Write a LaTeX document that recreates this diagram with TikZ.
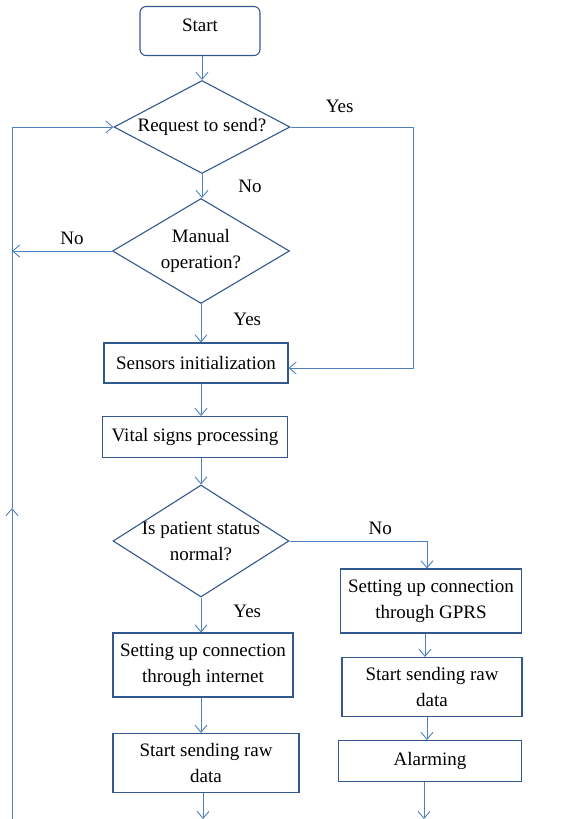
\documentclass[tikz,border=0pt]{standalone}
\usepackage{fontspec}
\setmainfont{Liberation Serif}
\usetikzlibrary{positioning, shapes.geometric, arrows.meta}
\definecolor{flowline}{RGB}{79,129,189}
\definecolor{flowedge}{RGB}{50,88,142}
\tikzstyle{startstop} = [rectangle, draw=flowedge, rounded corners=6pt, line width=1.1pt,
    minimum width=120pt, minimum height=49pt]
\tikzstyle{process} = [rectangle, draw=flowedge, line width=1.1pt, align=center, inner sep=0pt]
\tikzstyle{decision} = [diamond, draw=flowedge, line width=1.1pt, align=center, inner sep=-30pt]
\tikzstyle{line} = [draw=flowline, line width=0.9pt, ->]
\tikzstyle{answer} = [inner sep=0pt]

\begin{document}
\begin{tikzpicture}[x=1pt, y=1pt, node distance=96pt, >={Straight Barb[length=7pt,width=12pt]},
    font=\fontsize{19}{26}\selectfont]
                \useasboundingbox (0,0) rectangle (567,-819);
                % Nodes
                \node [startstop, text depth=12pt] (start) at (200,-31) {Start};
                \node [decision, below of=start, xshift=2pt, minimum width=176pt, minimum height=93pt] (request) {Request to send?};
                \node [decision, below of=request, node distance=124pt, xshift=-1pt, minimum width=177pt, minimum height=105pt] (manual) {Manual\\operation?};
                \node [process, below of=manual, node distance=112pt, xshift=-5pt, minimum width=184pt, minimum height=40pt] (sensors) {Sensors initialization};
                \node [process, below of=sensors, node distance=74pt, xshift=-1pt, minimum width=185pt, minimum height=41pt] (vital) {Vital signs processing};
                \node [decision, below of=vital, node distance=104pt, xshift=6pt, minimum width=176pt, minimum height=112pt] (status) {Is patient status\\normal?};

                \node [process, below of=status, node distance=124pt, xshift=2pt, minimum width=180pt, minimum height=64pt] (internet) {Setting up connection\\through internet};
                \node [process, below of=internet, node distance=98pt, xshift=3pt, minimum width=186pt, minimum height=59pt] (sendnet) {Start sending raw\\data};

                \node [process, right of=status, node distance=230pt, yshift=-60pt, minimum width=181pt, minimum height=64pt] (gprs) {Setting up connection\\through GPRS};
                \node [process, below of=gprs, node distance=86pt, xshift=1pt, minimum width=180pt, minimum height=59pt] (sendgprs) {Start sending raw\\data};
                \node [process, below of=sendgprs, node distance=74pt, xshift=-2pt, minimum width=183pt, minimum height=41pt] (alarm) {Alarming};

                % Loose ends
                \coordinate (loopbot) at (12,-819);
                \coordinate (loopmid) at (12,-508);
                \coordinate (endnet) at ([xshift=-3pt]sendnet.south |- loopbot);
                \coordinate (endgprs) at ([xshift=-6pt]alarm.south |- loopbot);

                % Connections
                \draw [line] (request.north |- start.south) -- (request.north);
                \draw [line] (request.south) -- node[answer, right=36pt] (no1) {No} (request.south |- manual.north);
                \draw [line] (request.east) -- node[answer, above=14pt, pos=0.4] (yes1) {Yes} ++(123,0) |- ([yshift=-5pt]sensors.east);
                \draw [line] (manual.south) -- node[answer, right=32pt, pos=0.4] (yes2) {Yes} (manual.south |- sensors.north);
                \draw [line] (manual.west) -- node[answer, above=6pt, pos=0.4] (no2) {No} (manual.west -| loopbot);
                \draw [line] (manual.south |- sensors.south) -- (manual.south |- vital.north);
                \draw [line] (status.north |- vital.south) -- (status.north);
                \draw [line] (status.south) -- node[answer, right=32pt, pos=0.4] (yes3) {Yes} (status.south |- internet.north);
                \draw [line] (status.east) -| node[answer, above=6pt, pos=0.33] (no3) {No} ([xshift=-4pt]gprs.north);
                \draw [line] (status.south |- internet.south) -- (status.south |- sendnet.north);
                \draw [line] (endnet |- sendnet.south) -- (endnet);
                \draw [line] ([xshift=-6pt]gprs.south) -- ([xshift=-6pt]gprs.south |- sendgprs.north);
                \draw [line] ([xshift=-5pt]sendgprs.south) -- ([xshift=-5pt]sendgprs.south |- alarm.north);
                \draw [line] (endgprs |- alarm.south) -- (endgprs);

                % Back to the start
                \draw [line] (loopbot) -- (loopmid);
                \draw [line] (loopmid) |- (request.west);

            \end{tikzpicture}
\end{document}
